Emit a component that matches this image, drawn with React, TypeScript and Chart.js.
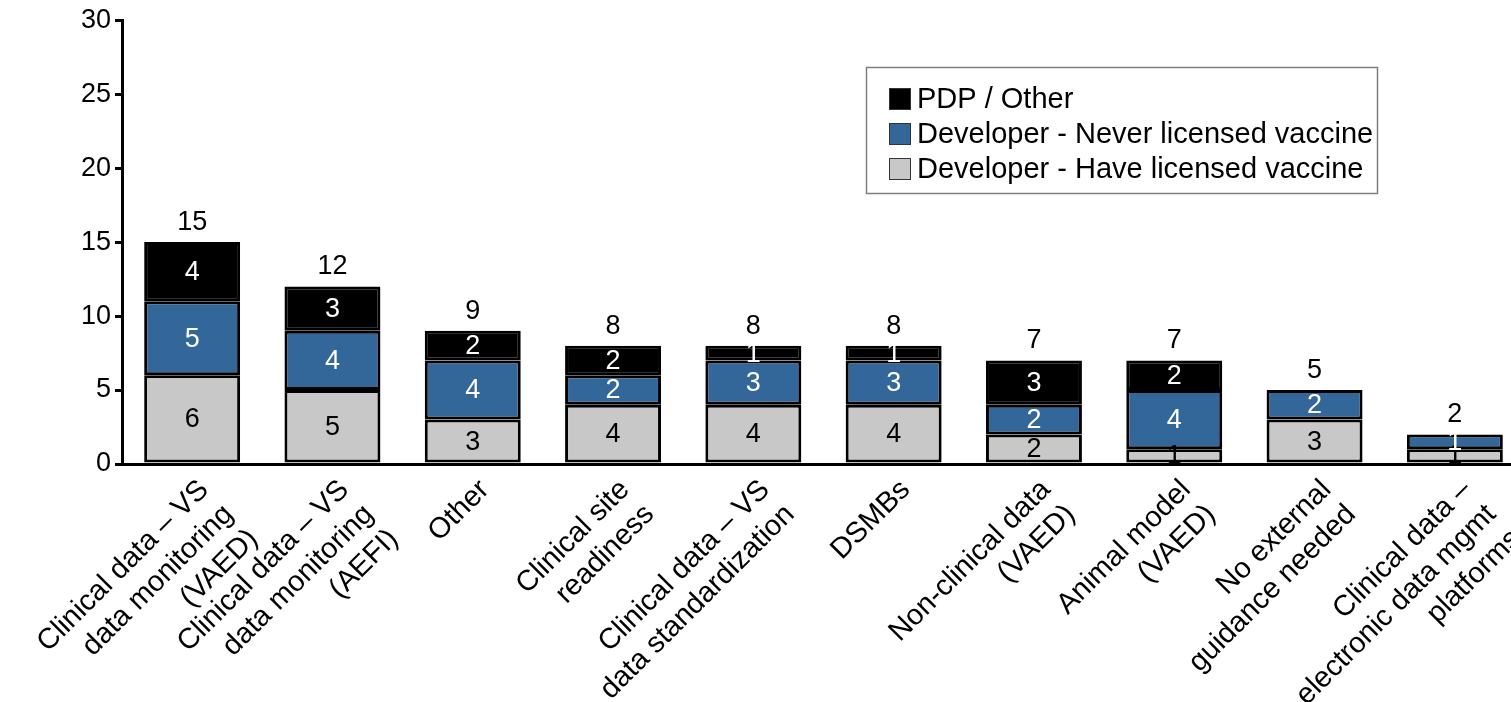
import React, { useEffect, useRef } from "react";
import { Chart, registerables } from "chart.js";

Chart.register(...registerables);

const FONT = "'Liberation Sans', Arial, Helvetica, sans-serif";

// ---- data ----
const categories: string[][] = [
  ["Clinical data – VS", "data monitoring", "(VAED)"],
  ["Clinical data – VS", "data monitoring", "(AEFI)"],
  ["Other"],
  ["Clinical site", "readiness"],
  ["Clinical data – VS", "data standardization"],
  ["DSMBs"],
  ["Non-clinical data", "(VAED)"],
  ["Animal model", "(VAED)"],
  ["No external", "guidance needed"],
  ["Clinical data –", "electronic data mgmt", "platforms"],
];
const haveLicensed = [6, 5, 3, 4, 4, 4, 2, 1, 3, 1];
const neverLicensed = [5, 4, 4, 2, 3, 3, 2, 4, 2, 1];
const pdpOther = [4, 3, 2, 2, 1, 1, 3, 2, 0, 0];
const seriesNames = [
  "Developer - Have licensed vaccine",
  "Developer - Never licensed vaccine",
  "PDP / Other",
];
const seriesColors = ["#c8c8c8", "#336699", "#000000"];
const labelColors = ["#000000", "#ffffff", "#ffffff"];
const yMin = 0;
const yMax = 30;
const yStep = 5;

const valueLabels = {
  id: "valueLabels",
  afterDatasetsDraw(chart: any) {
    const ctx = chart.ctx;
    ctx.save();
    ctx.font = `27px ${FONT}`;
    ctx.textAlign = "center";
    chart.data.datasets.forEach((ds: any, di: number) => {
      const meta = chart.getDatasetMeta(di);
      meta.data.forEach((bar: any, i: number) => {
        const v = ds.data[i];
        if (!v) return;
        const p = bar.getProps(["x", "y", "base"], true);
        ctx.fillStyle = labelColors[di];
        ctx.textBaseline = "middle";
        ctx.fillText(String(v), p.x, (p.y + p.base) / 2 + 1);
      });
    });
    const yScale = chart.scales.y;
    categories.forEach((_, i) => {
      const total = haveLicensed[i] + neverLicensed[i] + pdpOther[i];
      const yTop = yScale.getPixelForValue(total);
      const x = chart.getDatasetMeta(0).data[i].x;
      ctx.fillStyle = "#000";
      ctx.textBaseline = "alphabetic";
      ctx.fillText(String(total), x, yTop - 12);
    });
    ctx.restore();
  },
};

const boxLegend = {
  id: "boxLegend",
  afterDraw(chart: any) {
    const ctx = chart.ctx;
    ctx.save();
    const left = 866.5;
    const top = 67.5;
    const w = 511;
    const h = 126;
    ctx.strokeStyle = "#7f7f7f";
    ctx.lineWidth = 1.5;
    ctx.strokeRect(left, top, w, h);
    ctx.font = `29px ${FONT}`;
    ctx.textAlign = "left";
    ctx.textBaseline = "middle";
    const order = [2, 1, 0];
    order.forEach((di, row) => {
      const ds = chart.data.datasets[di];
      const cy = 99 + row * 35;
      ctx.fillStyle = ds.backgroundColor;
      ctx.fillRect(889, cy - 11, 22, 22);
      ctx.strokeStyle = "#333";
      ctx.lineWidth = 1;
      ctx.strokeRect(889.5, cy - 10.5, 21, 21);
      ctx.fillStyle = "#000";
      ctx.fillText(ds.label, 917, cy + 1);
    });
    ctx.restore();
  },
};

export default function App() {
  const ref = useRef<HTMLCanvasElement | null>(null);

  useEffect(() => {
    if (!ref.current) return;
    const toData = (arr: number[]) => arr.map((v) => (v === 0 ? null : v));
    const chart = new Chart(ref.current, {
      type: "bar",
      data: {
        labels: categories,
        datasets: [haveLicensed, neverLicensed, pdpOther].map((arr, i) => ({
          label: seriesNames[i],
          data: toData(arr),
          backgroundColor: seriesColors[i],
          borderColor: "#000",
          borderWidth: 3,
          borderSkipped: false,
          barPercentage: 0.684,
          categoryPercentage: 1,
        })),
      },
      options: {
        responsive: false,
        maintainAspectRatio: false,
        animation: false,
        devicePixelRatio: 1,
        layout: { padding: { top: 19, left: 0, right: 0, bottom: 0 } },
        plugins: {
          legend: { display: false },
          tooltip: { enabled: false },
          title: { display: false },
        },
        scales: {
          x: {
            stacked: true,
            offset: true,
            grid: { display: false, drawTicks: false },
            border: { display: true, color: "#000", width: 3 },
            ticks: {
              color: "#000",
              font: { family: FONT, size: 29, lineHeight: 1.2 },
              minRotation: 45,
              maxRotation: 45,
              autoSkip: false,
              padding: 9,
              labelOffset: 12,
            },
            afterFit(scale: any) {
              scale.height = 238;
              scale.paddingLeft = 0;
              scale.paddingRight = 0;
            },
          },
          y: {
            stacked: true,
            min: yMin,
            max: yMax,
            grid: {
              drawOnChartArea: false,
              drawTicks: true,
              tickLength: 7,
              color: "#000",
              lineWidth: 3,
            },
            border: { display: true, color: "#000", width: 3 },
            ticks: {
              stepSize: yStep,
              color: "#000",
              font: { family: FONT, size: 27 },
              padding: 4,
            },
            afterFit(scale: any) {
              scale.width = 122;
            },
          },
        },
      },
      plugins: [valueLabels, boxLegend],
    });
    return () => chart.destroy();
  }, []);

  return (
    <div
      style={{
        position: "fixed",
        left: 0,
        top: 0,
        width: 1511,
        height: 702,
        overflow: "hidden",
        background: "#fff",
      }}
    >
      <canvas ref={ref} width={1525} height={702} style={{ display: "block" }} />
    </div>
  );
}
